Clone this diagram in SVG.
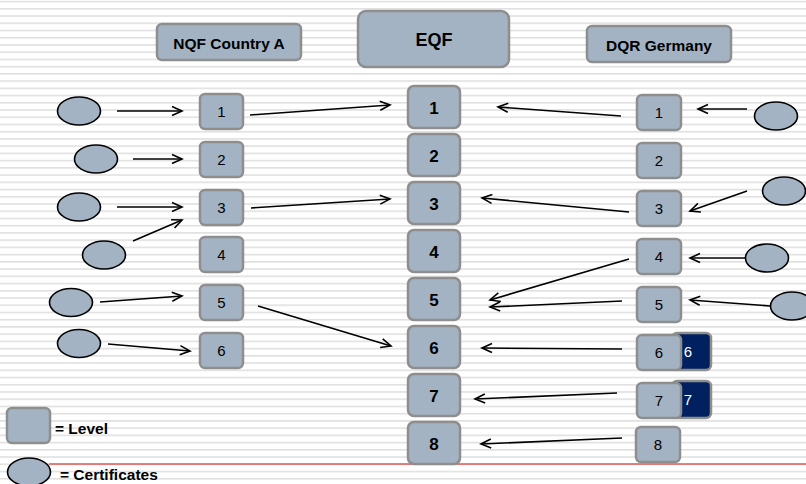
<svg xmlns="http://www.w3.org/2000/svg" width="806" height="484" viewBox="0 0 806 484">
<defs>
<pattern id="stripes" patternUnits="userSpaceOnUse" x="0" y="0.75" width="806" height="7.23">
<rect x="0" y="0" width="806" height="1.6" fill="#e0e0e0"/>
</pattern>
<marker id="arr" viewBox="-12 -7 14 14" markerWidth="14" markerHeight="14" refX="0" refY="0" orient="auto" markerUnits="userSpaceOnUse">
<path d="M-10,-4.5 L0,0 L-10,4.5" fill="none" stroke="#000" stroke-width="1.6"/>
</marker>
<style>
.box{fill:#a3b3c3;stroke:#8e8e8e;stroke-width:2.5}
.dark{fill:#002060;stroke:#8e8e8e;stroke-width:2.5}
.cert{fill:#a3b3c3;stroke:#000;stroke-width:1.6}
.hdr{font-family:"Liberation Sans",Arial,sans-serif;font-weight:bold;font-size:15.5px;text-anchor:middle;fill:#000}
.eqf{font-family:"Liberation Sans",Arial,sans-serif;font-weight:bold;font-size:17px;text-anchor:middle;fill:#000}
.num{font-family:"Liberation Sans",Arial,sans-serif;font-size:15px;text-anchor:middle;fill:#000}
.wnum{font-family:"Liberation Sans",Arial,sans-serif;font-size:15px;text-anchor:middle;fill:#fff}
.leg{font-family:"Liberation Sans",Arial,sans-serif;font-weight:bold;font-size:15.5px;fill:#000}
.con line{stroke:#000;stroke-width:1.6;marker-end:url(#arr)}
</style>
</defs>
<rect width="806" height="484" fill="#fff"/>
<rect width="806" height="484" fill="url(#stripes)"/>
<line x1="49" y1="464" x2="806" y2="464" stroke="#e01010" stroke-width="1.2"/>

<g id="hdr-nqf"><rect class="box" x="157" y="24" width="144" height="36" rx="5"/><text class="hdr" x="229" y="49">NQF Country A</text></g>
<g id="hdr-eqf"><rect class="box" x="358" y="11" width="151" height="56" rx="8"/><text class="hdr" style="font-size:18px" x="434" y="46">EQF</text></g>
<g id="hdr-dqr"><rect class="box" x="587" y="26" width="144" height="36" rx="5"/><text class="hdr" x="659" y="51">DQR Germany</text></g>

<g id="nqf1"><rect class="box" x="200" y="94" width="43" height="35" rx="5"/><text class="num" x="221.5" y="116.5">1</text></g>
<g id="nqf2"><rect class="box" x="200" y="142" width="43" height="35" rx="5"/><text class="num" x="221.5" y="164.5">2</text></g>
<g id="nqf3"><rect class="box" x="200" y="190" width="43" height="35" rx="5"/><text class="num" x="221.5" y="212.5">3</text></g>
<g id="nqf4"><rect class="box" x="200" y="237" width="43" height="35" rx="5"/><text class="num" x="221.5" y="259.5">4</text></g>
<g id="nqf5"><rect class="box" x="200" y="285" width="43" height="35" rx="5"/><text class="num" x="221.5" y="307.5">5</text></g>
<g id="nqf6"><rect class="box" x="200" y="333" width="43" height="35" rx="5"/><text class="num" x="221.5" y="355.5">6</text></g>

<g id="eqf1"><rect class="box" x="408" y="86" width="52" height="42" rx="6"/><text class="eqf" x="434" y="113.5">1</text></g>
<g id="eqf2"><rect class="box" x="408" y="134" width="52" height="42" rx="6"/><text class="eqf" x="434" y="161.5">2</text></g>
<g id="eqf3"><rect class="box" x="408" y="182" width="52" height="42" rx="6"/><text class="eqf" x="434" y="209.5">3</text></g>
<g id="eqf4"><rect class="box" x="408" y="230" width="52" height="42" rx="6"/><text class="eqf" x="434" y="257.5">4</text></g>
<g id="eqf5"><rect class="box" x="408" y="278" width="52" height="42" rx="6"/><text class="eqf" x="434" y="305.5">5</text></g>
<g id="eqf6"><rect class="box" x="408" y="326" width="52" height="42" rx="6"/><text class="eqf" x="434" y="353.5">6</text></g>
<g id="eqf7"><rect class="box" x="408" y="374" width="52" height="42" rx="6"/><text class="eqf" x="434" y="401.5">7</text></g>
<g id="eqf8"><rect class="box" x="408" y="422" width="52" height="42" rx="6"/><text class="eqf" x="434" y="449.5">8</text></g>

<g id="dqr1"><rect class="box" x="637" y="95" width="44" height="35" rx="5"/><text class="num" x="659" y="117.5">1</text></g>
<g id="dqr2"><rect class="box" x="637" y="143" width="44" height="35" rx="5"/><text class="num" x="659" y="165.5">2</text></g>
<g id="dqr3"><rect class="box" x="637" y="191" width="44" height="35" rx="5"/><text class="num" x="659" y="213.5">3</text></g>
<g id="dqr4"><rect class="box" x="637" y="239" width="44" height="35" rx="5"/><text class="num" x="659" y="261.5">4</text></g>
<g id="dqr5"><rect class="box" x="637" y="287" width="44" height="35" rx="5"/><text class="num" x="659" y="309.5">5</text></g>
<g id="dqr6"><rect class="dark" x="672" y="333" width="39" height="37" rx="5"/><text class="wnum" x="688" y="357">6</text><rect class="box" x="637" y="335" width="44" height="35" rx="5"/><text class="num" x="659" y="357.5">6</text></g>
<g id="dqr7"><rect class="dark" x="672" y="381" width="39" height="37" rx="5"/><text class="wnum" x="688" y="405">7</text><rect class="box" x="637" y="383" width="44" height="35" rx="5"/><text class="num" x="659" y="405.5">7</text></g>
<g id="dqr8"><rect class="box" x="636" y="427" width="44" height="35" rx="5"/><text class="num" x="658" y="449.5">8</text></g>

<g id="certs-left">
<ellipse class="cert" cx="79" cy="111" rx="21.5" ry="14"/>
<ellipse class="cert" cx="96" cy="159" rx="21.5" ry="14"/>
<ellipse class="cert" cx="79" cy="207" rx="21.5" ry="14"/>
<ellipse class="cert" cx="104" cy="255" rx="21.5" ry="14"/>
<ellipse class="cert" cx="71" cy="302.5" rx="21.5" ry="14"/>
<ellipse class="cert" cx="79" cy="343.5" rx="21.5" ry="14"/>
</g>
<g id="certs-right">
<ellipse class="cert" cx="776" cy="116" rx="21.5" ry="14"/>
<ellipse class="cert" cx="784" cy="191" rx="21.5" ry="14"/>
<ellipse class="cert" cx="767" cy="258" rx="21.5" ry="14"/>
<ellipse class="cert" cx="792" cy="306" rx="21.5" ry="14"/>
</g>

<g id="connectors" class="con">
<line x1="117" y1="111" x2="182" y2="111"/>
<line x1="133" y1="159" x2="182" y2="159"/>
<line x1="117" y1="207" x2="182" y2="207"/>
<line x1="133" y1="241" x2="182" y2="220"/>
<line x1="100" y1="302" x2="182" y2="296"/>
<line x1="108" y1="344" x2="190" y2="351"/>
<line x1="250" y1="115" x2="390" y2="105"/>
<line x1="251" y1="208" x2="390" y2="199"/>
<line x1="258" y1="306" x2="391" y2="346"/>
<line x1="747" y1="109" x2="698" y2="109"/>
<line x1="621" y1="116" x2="498" y2="107"/>
<line x1="747" y1="191" x2="690" y2="211"/>
<line x1="629" y1="212" x2="482" y2="198"/>
<line x1="629" y1="259" x2="490" y2="300"/>
<line x1="622" y1="301" x2="490" y2="307"/>
<line x1="745" y1="258" x2="690" y2="258"/>
<line x1="770" y1="306" x2="690" y2="300"/>
<line x1="622" y1="349" x2="482" y2="348"/>
<line x1="617" y1="393" x2="475" y2="399"/>
<line x1="622" y1="438" x2="481" y2="444"/>
</g>

<g id="legend">
<rect class="box" x="7" y="408" width="43" height="35" rx="5"/>
<text class="leg" x="55" y="434">= Level</text>
<ellipse class="cert" cx="29" cy="472" rx="21.5" ry="14"/>
<text class="leg" x="60" y="479.5">= Certificates</text>
</g>
</svg>
